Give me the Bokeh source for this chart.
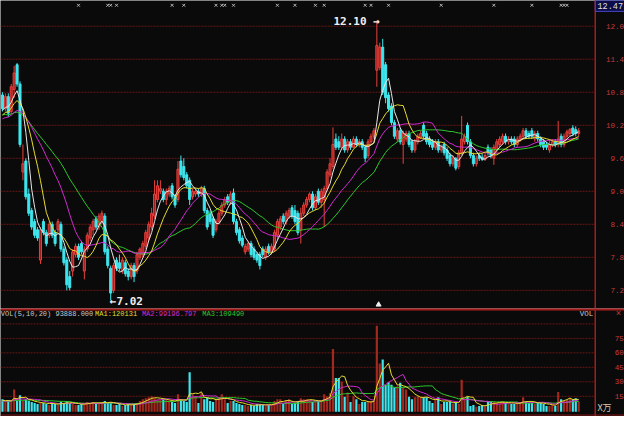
import numpy as np
from bokeh.plotting import figure
from bokeh.layouts import column
from bokeh.models import Range1d
from bokeh.core.properties import value
from bokeh.embed import file_html
from bokeh.resources import INLINE

# ---------------- data ----------------
opens = [10.75,10.50,10.72,10.45,10.85,11.30,10.95,9.35,9.55,8.95,
         8.65,8.45,8.30,7.75,8.45,8.25,8.20,8.40,8.25,8.30,
         8.40,7.95,7.75,7.45,7.55,7.85,8.00,8.05,7.55,7.95,
         8.15,8.30,8.50,8.35,8.45,8.55,7.95,7.60,7.20,7.75,
         7.70,7.55,7.70,7.55,7.45,7.65,7.55,7.80,7.85,8.00,
         8.15,8.35,8.55,8.85,9.00,9.00,8.85,8.95,9.10,8.90,
         8.85,9.55,9.45,9.30,9.20,8.90,8.95,9.00,8.95,9.05,
         8.65,8.60,8.50,8.30,8.45,8.60,8.75,8.90,8.80,8.97,
         8.45,8.30,8.15,7.90,7.95,8.05,7.95,7.85,7.85,7.95,
         7.80,8.00,7.90,7.95,8.20,8.35,8.55,8.45,8.55,8.70,
         8.65,8.60,8.30,8.60,8.75,8.85,8.95,8.70,9.00,8.80,
         8.85,9.05,9.30,9.45,9.95,9.90,9.80,9.95,9.75,9.90,
         9.80,9.95,9.85,9.90,9.80,9.65,9.90,10.00,11.20,11.25,
         11.62,11.30,10.75,10.55,10.25,9.95,10.10,9.85,9.95,10.05,
         9.90,9.75,9.90,9.98,10.20,10.05,9.95,9.90,9.80,9.90,
         9.75,9.85,9.75,9.65,9.50,9.60,9.45,9.70,9.90,10.20,
         9.90,9.65,9.50,9.65,9.62,9.58,9.80,9.75,9.60,9.75,
         9.85,9.90,10.00,9.90,9.95,9.95,9.85,9.95,10.00,10.10,
         10.05,10.10,9.95,10.05,9.95,9.90,9.85,9.75,9.85,9.90,
         9.85,10.00,9.85,10.00,10.05,10.15,10.12,10.05]
highs = [10.80,10.78,10.78,10.95,11.28,11.33,11.00,9.85,9.60,9.05,
         8.70,8.50,8.35,8.35,8.50,8.30,8.45,8.45,8.30,8.50,
         8.45,8.00,7.80,7.55,7.95,8.05,8.05,8.10,8.00,8.25,
         8.40,8.50,8.55,8.60,8.65,8.60,8.00,7.65,7.70,7.80,
         7.85,7.80,7.75,7.60,7.70,7.70,7.90,7.98,8.10,8.30,
         8.45,8.70,9.20,9.20,9.20,9.05,9.05,9.10,9.15,8.95,
         9.55,9.65,9.60,9.35,9.25,9.05,9.05,9.05,9.10,9.10,
         8.70,8.65,8.55,8.50,8.65,8.80,8.90,8.95,9.00,9.05,
         8.50,8.35,8.20,8.05,8.10,8.10,8.00,7.90,7.90,8.00,
         8.00,8.05,8.05,8.30,8.50,8.55,8.60,8.65,8.70,8.75,
         8.75,8.65,8.70,8.80,8.90,8.98,9.00,8.95,9.05,9.05,
         9.10,9.40,9.60,10.16,10.05,10.00,10.05,10.00,9.95,9.95,
         10.00,10.00,9.95,9.95,9.85,9.95,10.05,10.15,12.10,11.70,
         11.77,11.35,10.80,10.60,10.30,10.15,10.15,10.10,10.10,10.10,
         9.95,9.95,10.05,10.10,10.25,10.10,10.00,9.95,9.95,9.95,
         9.85,9.90,9.80,9.70,9.65,9.62,9.75,10.37,10.05,10.25,
         9.95,9.70,9.65,9.70,9.68,9.70,9.85,9.80,9.85,9.95,
         10.00,10.05,10.05,10.00,10.00,10.00,10.00,10.05,10.15,10.15,
         10.10,10.15,10.10,10.10,10.00,9.95,9.90,9.95,9.95,9.95,
         10.28,10.05,10.05,10.12,10.15,10.20,10.18,10.15]
lows = [10.45,10.45,10.35,10.40,10.70,10.90,9.80,9.20,8.85,8.55,
        8.30,8.15,8.10,7.68,8.20,8.00,8.15,8.15,8.00,8.25,
        7.90,7.65,7.20,7.20,7.45,7.80,7.75,7.85,7.40,7.90,
        8.10,8.20,8.30,8.30,8.40,7.85,7.60,7.02,7.15,7.55,
        7.55,7.50,7.45,7.38,7.40,7.35,7.50,7.75,7.80,7.95,
        8.10,8.30,8.50,8.80,8.95,8.80,8.75,8.90,8.85,8.70,
        8.80,9.25,9.20,9.05,8.75,8.85,8.90,8.90,8.90,8.60,
        8.30,8.40,8.15,8.25,8.40,8.55,8.70,8.75,8.75,8.40,
        8.20,8.05,7.98,7.85,7.90,7.80,7.75,7.70,7.58,7.80,
        7.75,7.85,7.85,7.90,8.10,8.30,8.40,8.40,8.50,8.50,
        8.40,8.20,8.05,8.55,8.70,8.80,8.65,8.65,8.75,8.70,
        8.35,9.00,9.25,9.40,9.75,9.75,9.75,9.70,9.70,9.75,
        9.78,9.80,9.80,9.75,9.53,9.60,9.85,9.95,10.90,11.20,
        10.75,10.60,10.45,10.20,9.95,9.90,9.85,9.50,9.90,9.80,
        9.70,9.70,9.85,9.95,9.95,9.85,9.80,9.75,9.75,9.70,
        9.70,9.65,9.55,9.45,9.45,9.38,9.40,9.65,9.85,9.85,
        9.60,9.45,9.45,9.55,9.55,9.55,9.65,9.60,9.48,9.70,
        9.80,9.85,9.85,9.85,9.85,9.80,9.80,9.90,9.95,9.95,
        9.95,9.95,9.90,9.90,9.80,9.75,9.75,9.70,9.80,9.80,
        9.80,9.80,9.80,9.95,10.00,10.00,10.00,10.00]
closes = [10.50,10.72,10.42,10.90,11.15,10.95,9.85,9.50,8.90,8.60,
          8.35,8.20,8.15,8.30,8.25,8.05,8.40,8.20,8.05,8.45,
          7.95,7.70,7.30,7.25,7.90,8.00,7.80,7.90,7.95,8.20,
          8.35,8.45,8.35,8.55,8.60,7.90,7.65,7.15,7.65,7.60,
          7.60,7.75,7.50,7.45,7.65,7.45,7.85,7.95,8.05,8.25,
          8.40,8.60,8.95,9.10,9.05,8.85,9.00,9.05,8.90,8.75,
          9.40,9.30,9.25,9.10,8.85,9.00,9.00,8.95,9.05,8.65,
          8.35,8.45,8.20,8.45,8.60,8.75,8.85,8.80,8.95,8.45,
          8.25,8.10,8.02,8.00,8.05,7.85,7.80,7.75,7.65,7.85,
          7.95,7.90,8.00,8.25,8.45,8.50,8.45,8.60,8.65,8.55,
          8.45,8.25,8.60,8.75,8.85,8.95,8.70,8.90,8.80,9.00,
          9.05,9.35,9.50,9.85,9.80,9.80,9.95,9.75,9.90,9.80,
          9.95,9.85,9.90,9.80,9.60,9.90,10.00,10.10,11.65,11.62,
          10.80,10.70,10.50,10.25,10.00,10.10,9.90,10.05,10.05,9.85,
          9.75,9.90,10.00,10.05,10.00,9.90,9.85,9.80,9.90,9.75,
          9.80,9.70,9.60,9.50,9.60,9.42,9.70,9.95,10.00,9.90,
          9.65,9.50,9.60,9.60,9.58,9.65,9.70,9.65,9.80,9.90,
          9.95,10.00,9.90,9.95,9.90,9.85,9.95,10.00,10.10,10.00,
          10.00,10.00,10.05,9.95,9.85,9.80,9.80,9.85,9.90,9.85,
          9.95,9.85,10.00,10.08,10.12,10.05,10.05,10.10]
volumes = [12,9,11,10,22,10,16,10,12,10,
           9,8,7,9,8,7,6,8,7,6,
           9,8,10,8,7,6,6,7,8,9,
           8,9,7,8,9,10,8,9,6,6,
           7,5,6,7,6,7,8,10,12,13,
           14,15,13,12,11,12,11,10,9,8,
           17,12,10,9,40,17,15,8,18,12,
           14,10,9,12,14,17,12,8,10,10,
           8,7,6,6,5,6,5,7,7,6,
           5,6,7,10,12,12,7,11,12,7,
           8,9,13,12,12,11,9,10,10,10,
           17,15,18,64,34,34,30,14.5,19,9,
           15,12,7,9,9,10,10,10,88,49,
           53,27,29.5,27,24,25.5,29,24,22,14.5,
           12,14,15,14,14,14,10,8,12,14,
           7,9,9,9,7,9,7,32,12,14.5,
           5,6,4,5,6,5,9,9,9,8,
           8,10,8,8,7,7,8,9,14,9,
           8,8,7,9,8,7,5,5,6,5,
           19.5,12,10,11,13,12,13,9.39]
# closes / volumes before the first visible bar (moving-average warm-up)
prior_closes = [10.55,10.60,10.50,10.45,10.55,10.60,10.50,10.45,10.60,10.55,
                10.30,10.20,10.25,10.15,10.20,10.30,10.25,10.20,10.30,10.35,
                10.25,10.30,10.20,10.35,10.40,10.45,10.35,10.50,10.55]
prior_volumes = [9,10,8,11,9,10,12,9,8,10,11,9,10,8,9,11,10,12,9]

price_ticks = [12.0, 11.4, 10.8, 10.2, 9.6, 9.0, 8.4, 7.8, 7.2]
price_labels = ["12.0", "11.4", "10.8", "10.2", "9.6", "9.0", "8.4", "7.8", "7.2"]
vol_ticks = [75, 60, 45, 30, 15]
vol_grid = [90, 75, 60, 45, 30, 15]
marker_bars = [26,36,37,39,58,62,73,75,76,79,94,100,107,110,124,126,132,150,168,181,191,192,193]
high_bar = 128
low_bar = 37

# ---------------- helpers ----------------
N = len(closes)
idx = np.arange(N)
o = np.array(opens); h = np.array(highs); l = np.array(lows); c = np.array(closes)
v = np.array(volumes, dtype=float)
up = c >= o

def mov_avg(series, prior, n):
    full = np.concatenate([np.array(prior, dtype=float), np.array(series, dtype=float)])
    k = len(prior)
    return [full[max(0, j - n + 1):j + 1].mean() for j in range(k, len(full))]

BG = "#0a0a0a"
RED = "#e8403c"
RED_FILL = "#a01e1e"
CYAN = "#3ee6ee"
GRID = "#6a1616"
AXRED = "#c83a3a"
BORDER = "#a81c1c"
WHITE = "#e6e6e6"
YELLOW = "#e6dc2c"
MAGENTA = "#d22ad2"
GREEN = "#2ec82e"
MONO = value("Liberation Mono")
ANNO = value("DejaVu Sans Mono")

XL, XR = -0.667, 212.667
XB = 202.67  # right border of the chart area

# ---------------- price panel ----------------
p1 = figure(width=624, height=308, x_range=Range1d(XL, XR), y_range=Range1d(6.87, 12.467),
            x_axis_location=None, y_axis_location=None, output_backend="svg",
            toolbar_location=None, background_fill_color=BG, border_fill_color=BG,
            outline_line_color=None, min_border=0)
p1.grid.visible = False

p1.segment(x0=[XL] * len(price_ticks), x1=[XB] * len(price_ticks), y0=price_ticks, y1=price_ticks,
           line_color=GRID, line_width=1, line_dash="2 1")

ui = idx[up]; di = idx[~up]
p1.segment(x0=ui, x1=ui, y0=l[up], y1=h[up], line_color=RED, line_width=1)
p1.segment(x0=di, x1=di, y0=l[~up], y1=h[~up], line_color=CYAN, line_width=1)
p1.vbar(x=ui, width=0.7, top=np.maximum(o[up], c[up]), bottom=np.minimum(o[up], c[up]),
        fill_color=RED_FILL, line_color=RED, line_width=1)
p1.vbar(x=di, width=0.7, top=o[~up], bottom=c[~up], fill_color=CYAN, line_color=CYAN, line_width=1)

for n, col in [(30, GREEN), (20, MAGENTA), (10, YELLOW), (5, WHITE)]:
    p1.line(idx, mov_avg(closes, prior_closes, n), line_color=col, line_width=1)

# border lines
p1.segment(x0=[XB], x1=[XB], y0=[6.87], y1=[12.467], line_color=BORDER, line_width=1.5)

# right price labels
lab_x = [206.3 if len(t) == 4 else 207.9 for t in price_labels]
p1.text(x=lab_x, y=price_ticks, text=price_labels, text_font=MONO, text_font_size="7.5px",
        text_color=AXRED, text_align="left", text_baseline="middle")

# current price box
p1.quad(left=[XB], right=[XR], top=[12.467], bottom=[12.27], fill_color="#0c0c48",
        line_color="#4a4ad0", line_width=1)
p1.text(x=[207.8], y=[12.37], text=["12.47"], text_font=MONO, text_font_size="8.5px",
        text_color="#e0e0e0", text_align="center", text_baseline="middle")

# info markers on top
p1.scatter(x=marker_bars, y=[12.38] * len(marker_bars), marker="x", size=4,
           line_color="#b8b8b8", line_width=1)

# extremes annotations
p1.text(x=[high_bar + 1.0], y=[12.082], text=["12.10 \u2192"], text_font=ANNO,
        text_font_size="11px", text_font_style="bold", text_color="#f0f0f0",
        text_align="right", text_baseline="middle")
p1.text(x=[low_bar - 0.3], y=[6.99], text=["\u21907.02"], text_font=ANNO,
        text_font_size="11px", text_font_style="bold", text_color="#f0f0f0",
        text_align="left", text_baseline="middle")
p1.scatter(x=[high_bar + 0.6], y=[6.94], marker="triangle", size=5,
           fill_color="#f0f0f0", line_color="#f0f0f0")

# ---------------- volume panel ----------------
p2 = figure(width=624, height=108, x_range=p1.x_range, y_range=Range1d(-6, 106),
            x_axis_location=None, y_axis_location=None, output_backend="svg",
            toolbar_location=None, background_fill_color=BG, border_fill_color=BG,
            outline_line_color=None, min_border=0)
p2.grid.visible = False

p2.segment(x0=[XL] * len(vol_grid), x1=[XB] * len(vol_grid), y0=vol_grid, y1=vol_grid,
           line_color=GRID, line_width=1, line_dash="2 1")
p2.vbar(x=ui, width=0.75, top=v[up], bottom=-1, fill_color="#a3281e", line_color=None)
p2.vbar(x=di, width=0.75, top=v[~up], bottom=-1, fill_color=CYAN, line_color=None)
for n, col in [(20, GREEN), (10, MAGENTA), (5, YELLOW)]:
    p2.line(idx, mov_avg(volumes, prior_volumes, n), line_color=col, line_width=1)

p2.segment(x0=[XL], x1=[XR], y0=[105.2], y1=[105.2], line_color=BORDER, line_width=2.5)
p2.segment(x0=[XB], x1=[XB], y0=[-6], y1=[106], line_color=BORDER, line_width=1.5)
p2.segment(x0=[XL], x1=[XR], y0=[-4.5], y1=[-4.5], line_color="#8a1818", line_width=1)

leg_x = [-0.55, 31.67, 47.67, 68.33]
leg_t = ["VOL(5,10,20) 93888.000", "MA1:120131", "MA2:99196.797", "MA3:109490"]
leg_c = ["#c8c8c8", YELLOW, MAGENTA, GREEN]
p2.text(x=leg_x, y=[100] * 4, text=leg_t, text_color=leg_c, text_font=MONO,
        text_font_size="7px", text_align="left", text_baseline="middle")
p2.text(x=[202.0], y=[100], text=["VOL"], text_color="#c8c8c8", text_font=MONO,
        text_font_size="7.5px", text_align="right", text_baseline="middle")
p2.text(x=[210.6], y=[100], text=["\u00d7"], text_color=AXRED, text_font=MONO,
        text_font_size="9px", text_align="center", text_baseline="middle")
p2.text(x=[209.3] * len(vol_ticks), y=vol_ticks, text=[str(t) for t in vol_ticks],
        text_color=AXRED, text_font=MONO, text_font_size="7.5px",
        text_align="left", text_baseline="middle")
p2.text(x=[203.4], y=[3], text=["X万"], text_color="#d8ccb0",
        text_font=value("Noto Sans CJK SC"), text_font_size="9px",
        text_align="left", text_baseline="middle")

layout = column(p1, p2, spacing=0)
open("out.html", "w").write(file_html(layout, INLINE))
